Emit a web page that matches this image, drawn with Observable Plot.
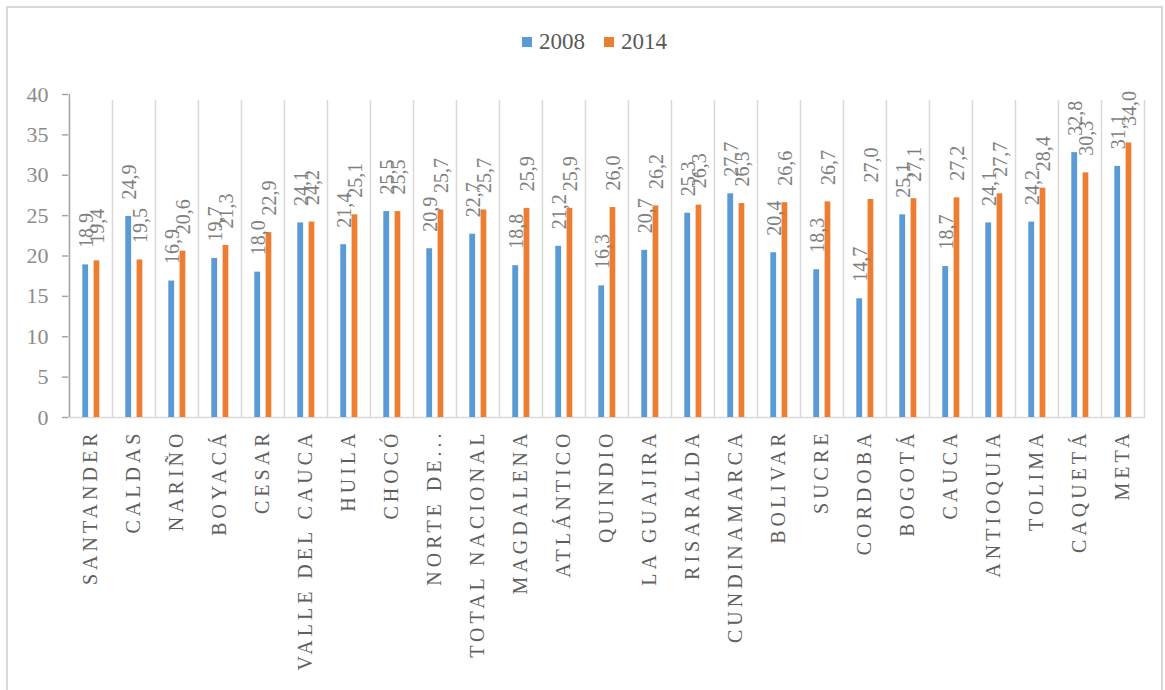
<!DOCTYPE html>
<html>
<head>
<meta charset="utf-8">
<script src="https://cdn.jsdelivr.net/npm/d3@7"></script>
<script src="https://cdn.jsdelivr.net/npm/@observablehq/plot@0.6"></script>
<style>
  body { margin: 0; background: #fff; }
  #wrap { position: relative; width: 1165px; height: 690px; overflow: hidden; font-family: "Liberation Serif", "Times New Roman", serif; }
  #frame { position: absolute; left: 6px; top: 6px; width: 1157px; height: 690px; border-left: 2px solid #d9d9d9; border-top: 2px solid #d9d9d9; border-right: 2px solid #d9d9d9; box-sizing: border-box; }
  #legend { position: absolute; left: 522px; top: 30px; display: flex; align-items: center; font-size: 23px; color: #595959; line-height: 1; }
  #legend .sw { width: 10px; height: 10px; display: inline-block; margin-right: 7px; }
  #legend .item { display: flex; align-items: center; margin-right: 19px; }
  #chart { position: absolute; left: 0; top: 0; }
  g[aria-label="x-axis tick label"] text { letter-spacing: 4px; }
</style>
</head>
<body>
<div id="wrap">
  <div id="frame"></div>
  <div id="legend"></div>
  <div id="chart"></div>
</div>
<script>
const categories = ["SANTANDER","CALDAS","NARIÑO","BOYACÁ","CESAR","VALLE DEL CAUCA","HUILA","CHOCÓ","NORTE DE...","TOTAL NACIONAL","MAGDALENA","ATLÁNTICO","QUINDIO","LA GUAJIRA","RISARALDA","CUNDINAMARCA","BOLIVAR","SUCRE","CORDOBA","BOGOTÁ","CAUCA","ANTIOQUIA","TOLIMA","CAQUETÁ","META"];
const values2008 = [18.9,24.9,16.9,19.7,18.0,24.1,21.4,25.5,20.9,22.7,18.8,21.2,16.3,20.7,25.3,27.7,20.4,18.3,14.7,25.1,18.7,24.1,24.2,32.8,31.1];
const values2014 = [19.4,19.5,20.6,21.3,22.9,24.2,25.1,25.5,25.7,25.7,25.9,25.9,26.0,26.2,26.3,26.5,26.6,26.7,27.0,27.1,27.2,27.7,28.4,30.3,34.0];
const seriesNames = ["2008","2014"];
const seriesColors = ["#5B9BD5","#ED7D31"];
const yTicks = [0,5,10,15,20,25,30,35,40];

const W = 1165, H = 690, mL = 68, mR = 20, mT = 94, mB = 273;
const bw = (W - mL - mR) / categories.length;

const rows2008 = categories.map((c, i) => ({cat: c, v: values2008[i]}));
const rows2014 = categories.map((c, i) => ({cat: c, v: values2014[i]}));
const fmt = v => d3.format(".1f")(v).replace(".", ",");

// legend
const legend = document.getElementById("legend");
seriesNames.forEach((s, i) => {
  const it = document.createElement("span");
  it.className = "item";
  it.innerHTML = `<span class="sw" style="background:${seriesColors[i]}"></span><span>${s}</span>`;
  legend.appendChild(it);
});

const gridStyle = {stroke: "#d9d9d9", strokeWidth: 1.5};
const plot = Plot.plot({
  width: W, height: H,
  marginTop: mT, marginBottom: mB, marginLeft: mL, marginRight: mR,
  x: {domain: categories, padding: 0},
  y: {domain: [0, 40]},
  style: {fontFamily: "'Liberation Serif', 'Times New Roman', serif", background: "transparent", overflow: "visible"},
  marks: [
    Plot.ruleX(categories, {x: d => d, dx: -bw / 2, y1: 0, y2: 40, insetBottom: -6, ...gridStyle}),
    Plot.ruleX([categories[categories.length - 1]], {x: d => d, dx: bw / 2, y1: 0, y2: 40, insetBottom: -6, ...gridStyle}),
    Plot.ruleY([0], {...gridStyle}),
    Plot.ruleX([categories[0]], {x: d => d, dx: -bw / 2, y1: 0, y2: 40, stroke: "#a6a6a6", strokeWidth: 1.5}),
    Plot.barY(rows2008, {x: "cat", y: "v", fill: seriesColors[0], insetLeft: 13.3, insetRight: bw - 19.2}),
    Plot.barY(rows2014, {x: "cat", y: "v", fill: seriesColors[1], insetLeft: 24.6, insetRight: bw - 30.4}),
    Plot.text(rows2008, {x: "cat", y: "v", text: d => fmt(d.v), rotate: -90, textAnchor: "start", dx: -4.5, dy: -17, fontSize: 20, fill: "#7f7f7f"}),
    Plot.text(rows2014, {x: "cat", y: "v", text: d => fmt(d.v), rotate: -90, textAnchor: "start", dx: 6.5, dy: -17, fontSize: 20, fill: "#7f7f7f"}),
    Plot.axisY({ticks: yTicks, tickSize: 6, tickPadding: 14, fontSize: 22, fill: "#8c8c8c", stroke: "#a6a6a6", strokeWidth: 1.5, tickFormat: d => String(d), label: null}),
    Plot.axisX({tickSize: 0, tickPadding: 12, tickRotate: -90, fontSize: 20, fill: "#5f5f5f", label: null})
  ]
});
document.getElementById("chart").appendChild(plot);
</script>
</body>
</html>
